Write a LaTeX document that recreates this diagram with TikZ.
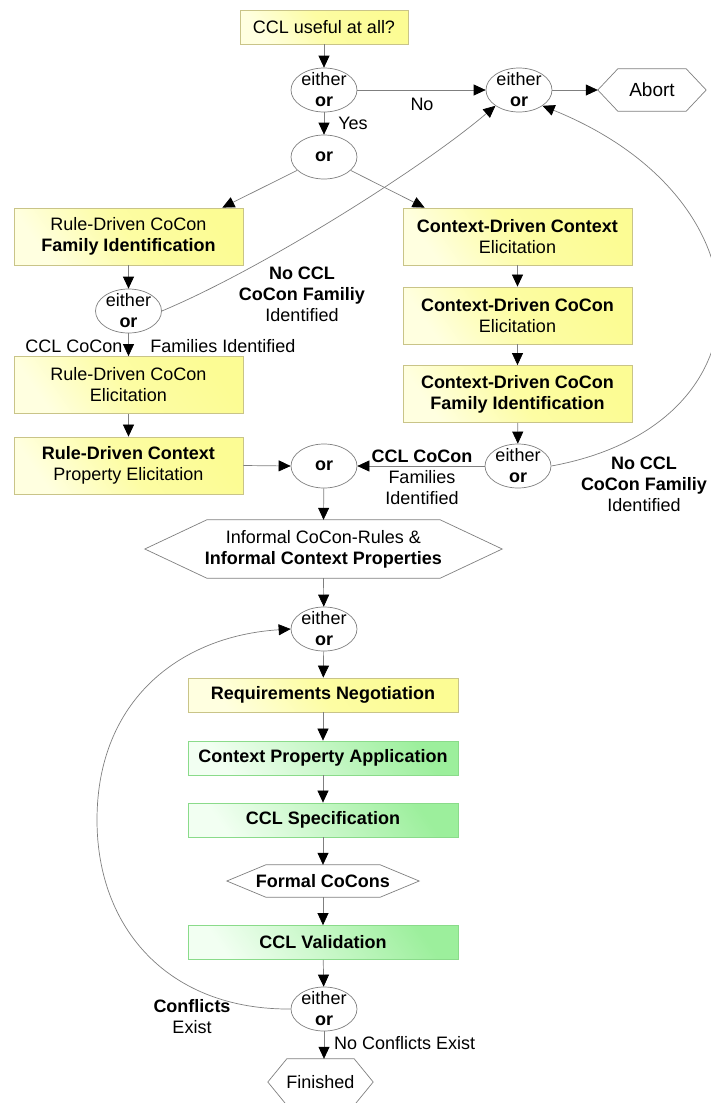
\documentclass[tikz,border=0pt]{standalone}
\usepackage{fontspec}
\setmainfont{Liberation Sans}
\usetikzlibrary{arrows.meta,shapes.geometric}
\definecolor{yel}{HTML}{FCFC94}
\definecolor{yellight}{HTML}{FFFFE0}
\definecolor{yelborder}{HTML}{C9C488}
\definecolor{grn}{HTML}{9CEF9C}
\definecolor{grnlight}{HTML}{F2FFF2}
\definecolor{grnborder}{HTML}{8ADB8A}
\definecolor{linegray}{HTML}{7F7F7F}
\begin{document}
\begin{tikzpicture}[x=1pt,y=-1pt,
  every node/.style={font=\fontsize{18}{21}\selectfont, inner sep=0pt, align=center},
  ybox/.style={rectangle, draw=yelborder, line width=0.8pt, top color=yel, bottom color=yellight, middle color=yel!80!yellight, shading angle=-55},
  gbox/.style={rectangle, draw=grnborder, line width=0.8pt, top color=grn, bottom color=grnlight, shading angle=-55},
  bigbox/.style={minimum width=229pt, minimum height=57pt},
  longbox/.style={minimum width=270pt, minimum height=34pt},
  eo/.style={ellipse, draw=linegray, line width=0.7pt, fill=white, minimum width=66pt, minimum height=44pt},
  hexn/.style={rectangle},
  hexline/.style={draw=linegray, line width=0.7pt},
  conn/.style={draw=linegray, line width=0.7pt, -{Triangle[length=12pt,width=11pt,color=black]}},
  lbl/.style={align=center}
]
\useasboundingbox (0,0) rectangle (710,1103);

% nodes
\node[ybox, minimum width=168pt, minimum height=34pt] (top) at (324,27) {CCL useful at all?};
\node[eo, label=center:{either\\\textbf{or}}] (e1) at (324,90) {};
\node[eo, label=center:{either\\\textbf{or}}] (e2) at (519,90) {};
\node[hexn, minimum width=108pt, minimum height=42pt] (abort) at (652,90) {\fontsize{19}{21}\selectfont Abort};
\node[eo, label=center:{\textbf{or}}] (or1) at (324,157) {};

\node[ybox, bigbox] (rd1) at (128.5,236.5) {Rule-Driven CoCon\\\textbf{Family Identification}};
\node[eo, label=center:{either\\\textbf{or}}] (e3) at (128.5,311) {};
\node[ybox, bigbox] (rd2) at (128.5,385) {Rule-Driven CoCon\\Elicitation};
\node[ybox, bigbox] (rd3) at (128.5,465.5) {\textbf{Rule-Driven Context}\\Property Elicitation};

\node[ybox, bigbox] (cd1) at (517.5,236.5) {\textbf{Context-Driven Context}\\Elicitation};
\node[ybox, bigbox] (cd2) at (517.5,315.5) {\textbf{Context-Driven CoCon}\\Elicitation};
\node[ybox, bigbox] (cd3) at (517.5,394) {\textbf{Context-Driven CoCon}\\\textbf{Family Identification}};
\node[eo, label=center:{either\\\textbf{or}}] (e4) at (518,466) {};
\node[eo, label=center:{\textbf{or}}] (or2) at (324,466) {};

\node[hexn, minimum width=357pt, minimum height=58pt] (inf) at (323.5,549) {Informal CoCon-Rules \&\\\textbf{Informal Context Properties}};
\node[eo, label=center:{either\\\textbf{or}}] (e5) at (324,629) {};
\node[ybox, longbox] (req) at (323,695) {\textbf{Requirements Negotiation}};
\node[gbox, longbox] (cpa) at (323,758) {\textbf{Context Property Application}};
\node[gbox, longbox] (spec) at (323,820) {\textbf{CCL Specification}};
\node[hexn, minimum width=192pt, minimum height=32pt] (formal) at (323,881) {\textbf{Formal CoCons}};
\node[gbox, longbox] (val) at (323,942.5) {\textbf{CCL Validation}};
\node[eo, label=center:{either\\\textbf{or}}] (e6) at (324,1009) {};
\node[hexn, minimum width=105pt, minimum height=46pt] (fin) at (320.5,1082) {Finished};

% hexagon outlines
\draw[hexline] (abort.west) -- ([xshift=20pt]abort.north west) -- ([xshift=-20pt]abort.north east) -- (abort.east) -- ([xshift=-20pt]abort.south east) -- ([xshift=20pt]abort.south west) -- cycle;
\draw[hexline] (inf.west) -- ([xshift=62pt]inf.north west) -- ([xshift=-62pt]inf.north east) -- (inf.east) -- ([xshift=-62pt]inf.south east) -- ([xshift=62pt]inf.south west) -- cycle;
\draw[hexline] (formal.west) -- ([xshift=39pt]formal.north west) -- ([xshift=-39pt]formal.north east) -- (formal.east) -- ([xshift=-39pt]formal.south east) -- ([xshift=39pt]formal.south west) -- cycle;
\draw[hexline] (fin.west) -- ([xshift=19pt]fin.north west) -- ([xshift=-19pt]fin.north east) -- (fin.east) -- ([xshift=-19pt]fin.south east) -- ([xshift=19pt]fin.south west) -- cycle;

% labels
\node (lno) at (422,104) {No};
\node (lyes) at (353,123) {Yes};
\node[lbl] (lnoccl1) at (302,294) {\textbf{No CCL}\\\textbf{CoCon Familiy}\\Identified};
\node (lccl1) at (74,346) {CCL CoCon};
\node (lfam1) at (223,346) {Families Identified};
\node[lbl] (lccl2) at (422,477) {\textbf{CCL CoCon}\\Families\\Identified};
\node[lbl] (lnoccl2) at (644,484) {\textbf{No CCL}\\\textbf{CoCon Familiy}\\Identified};
\node[lbl] (lconf) at (192,1017) {\textbf{Conflicts}\\Exist};
\node[anchor=west] (lnoconf) at (334,1043) {No Conflicts Exist};

% connectors
\draw[conn] (top) -- (e1);
\draw[conn] (e1) -- (e2);
\draw[conn] (e2) -- (abort.west);
\draw[conn] (e1) -- (or1);
\draw[conn] (or1) -- ([xshift=-21pt]rd1.north east);
\draw[conn] (or1) -- ([xshift=22pt]cd1.north west);
\draw[conn] (rd1) -- (e3);
\draw[conn] (e3) -- (rd2);
\draw[conn] (rd2) -- (rd3);
\draw[conn] (rd3.east) -- (or2.west);
\draw[conn] (cd1) -- (cd2);
\draw[conn] (cd2) -- (cd3);
\draw[conn] (cd3) -- (e4);
\draw[conn] (e4) -- (or2);
\draw[conn] (or2) -- (inf.north);
\draw[conn] (inf.south) -- (e5);
\draw[conn] (e5) -- (req);
\draw[conn] (req) -- (cpa);
\draw[conn] (cpa) -- (spec);
\draw[conn] (spec) -- (formal.north);
\draw[conn] (formal.south) -- (val);
\draw[conn] (val) -- (e6);
\draw[conn] (e6) -- (e6 |- fin.north);
\draw[conn] (e3.east) .. controls (260,270) and (420,170) .. (e2.south west);
\draw[conn] (e4.east) .. controls (775,425) and (775,200) .. (e2.south east);
\draw[conn] (e6.west) .. controls (170,1010) and (97,930) .. (97,820) .. controls (97,700) and (180,636) .. (e5.west);
\end{tikzpicture}
\end{document}
